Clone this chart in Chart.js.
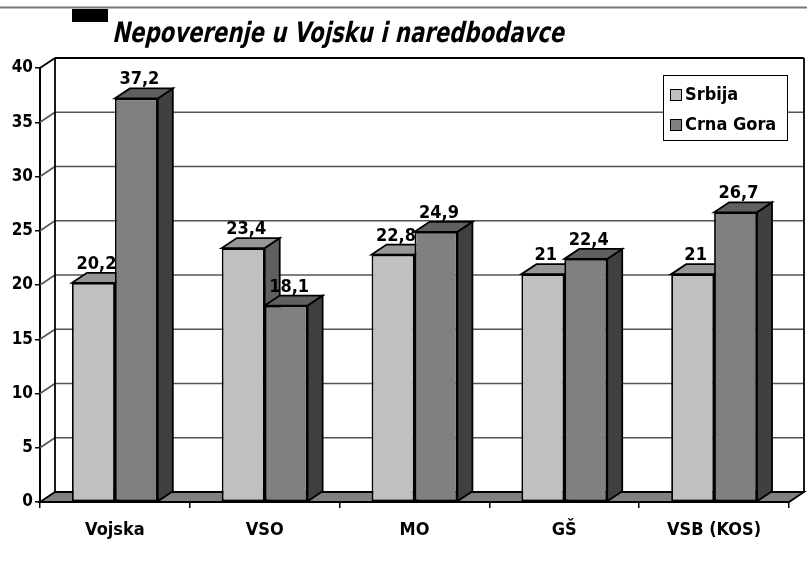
<!DOCTYPE html>
<html><head><meta charset="utf-8">
<script src="https://cdn.jsdelivr.net/npm/chart.js@4"></script>
<style>html,body{margin:0;padding:0;background:#fff}#wrap{width:807px;height:561px}</style>
</head><body><div id="wrap"><canvas id="c" width="807" height="561"></canvas></div>
<script>
const chartTitle = 'Nepoverenje u Vojsku i naredbodavce';
const categories = ['Vojska', 'VSO', 'MO', 'GŠ', 'VSB (KOS)'];
const seriesNames = ['Srbija', 'Crna Gora'];
const srbija = [20.2, 23.4, 22.8, 21, 21];
const crnaGora = [37.2, 18.1, 24.9, 22.4, 26.7];
const yTicks = [0, 5, 10, 15, 20, 25, 30, 35, 40];

const DX = 15, DY = -10;
const FRONT = ['#c0c0c0', '#808080'];
const TOP = ['#969696', '#606060'];
const SIDE = ['#606060', '#404040'];
const BODY = '"DejaVu Sans Condensed", "DejaVu Sans", sans-serif';
const TITLE_FONT = 'bold 28px "DejaVu Sans", sans-serif';
const W = 'bold';

function poly(ctx, pts, fill, stroke, lw) {
  ctx.beginPath();
  ctx.moveTo(pts[0][0], pts[0][1]);
  for (let i = 1; i < pts.length; i++) ctx.lineTo(pts[i][0], pts[i][1]);
  ctx.closePath();
  if (fill) { ctx.fillStyle = fill; ctx.fill(); }
  if (stroke) { ctx.strokeStyle = stroke; ctx.lineWidth = lw || 1; ctx.stroke(); }
}
function line(ctx, x1, y1, x2, y2) {
  ctx.beginPath(); ctx.moveTo(x1, y1); ctx.lineTo(x2, y2); ctx.stroke();
}

const threeD = {
  id: 'threeD',
  beforeDatasetsDraw(chart) {
    const { ctx, chartArea: a, scales: { y } } = chart;
    ctx.save();
    ctx.strokeStyle = '#555'; ctx.lineWidth = 1.6;
    yTicks.forEach(v => {
      const py = y.getPixelForValue(v);
      if (v > 0 && v < 40) {
        line(ctx, a.left + DX, py + DY, a.right + DX, py + DY);
        line(ctx, a.left, py, a.left + DX, py + DY);
      }
    });
    ctx.strokeStyle = '#000'; ctx.lineWidth = 1.8;
    line(ctx, a.left + DX, a.top + DY, a.right + DX, a.top + DY);
    line(ctx, a.right + DX, a.top + DY, a.right + DX, a.bottom + DY);
    line(ctx, a.left + DX, a.top + DY, a.left + DX, a.bottom + DY);
    line(ctx, a.left, a.top, a.left + DX, a.top + DY);
    poly(ctx, [[a.left, a.bottom], [a.right, a.bottom], [a.right + DX, a.bottom + DY], [a.left + DX, a.bottom + DY]], '#808080', '#000', 1.8);
    const n = chart.data.labels.length;
    for (let i = 0; i < n; i++) {
      chart.data.datasets.forEach((ds, d) => {
        const el = chart.getDatasetMeta(d).data[i];
        const l = el.x - el.width / 2, r = el.x + el.width / 2, t = el.y, b = el.base;
        poly(ctx, [[r, t], [r + DX, t + DY], [r + DX, b + DY], [r, b]], SIDE[d], '#000', 1.8);
        poly(ctx, [[l, t], [r, t], [r + DX, t + DY], [l + DX, t + DY]], TOP[d], '#000', 1.8);
      });
    }
    ctx.restore();
  },
  afterDatasetsDraw(chart) {
    const { ctx } = chart;
    ctx.save();
    ctx.fillStyle = '#000';
    ctx.font = W + ' 18px ' + BODY;
    ctx.textAlign = 'center'; ctx.textBaseline = 'alphabetic';
    chart.data.datasets.forEach((ds, d) => {
      chart.getDatasetMeta(d).data.forEach((el, i) => {
        const txt = String(ds.data[i]).replace('.', ',');
        ctx.fillText(txt, el.x + 3, el.y + DY - 4);
      });
    });
    ctx.restore();
  },
  afterDraw(chart) {
    const { ctx } = chart;
    ctx.save();
    ctx.strokeStyle = '#777'; ctx.lineWidth = 2;
    line(ctx, 0, 7.5, chart.width, 7.5);
    ctx.fillStyle = '#000';
    ctx.fillRect(72, 9, 36, 13);
    ctx.font = TITLE_FONT;
    ctx.textAlign = 'left'; ctx.textBaseline = 'alphabetic';
    const w = ctx.measureText(chartTitle).width;
    ctx.setTransform(452 / w, 0, -0.22, 1, 112, 42);
    ctx.fillText(chartTitle, 0, 0);
    ctx.setTransform(1, 0, 0, 1, 0, 0);
    const lx = 663, ly = 75, lw = 124, lh = 65;
    ctx.fillStyle = '#fff'; ctx.fillRect(lx, ly, lw, lh);
    ctx.strokeStyle = '#000'; ctx.lineWidth = 1; ctx.strokeRect(lx + 0.5, ly + 0.5, lw, lh);
    chart.data.datasets.forEach((ds, d) => {
      const cy = ly + 20 + d * 30;
      ctx.fillStyle = ds.backgroundColor;
      ctx.fillRect(lx + 7, cy - 6, 12, 12);
      ctx.strokeStyle = '#000'; ctx.lineWidth = 1;
      ctx.strokeRect(lx + 7.5, cy - 5.5, 11, 11);
      ctx.fillStyle = '#000';
      ctx.font = W + ' 18px ' + BODY;
      ctx.textBaseline = 'middle';
      ctx.fillText(ds.label, lx + 22, cy);
    });
    ctx.restore();
  }
};

new Chart(document.getElementById('c'), {
  type: 'bar',
  data: {
    labels: categories,
    datasets: [
      { label: seriesNames[0], data: srbija, backgroundColor: FRONT[0], borderColor: '#000', borderWidth: 1.8, borderSkipped: false },
      { label: seriesNames[1], data: crnaGora, backgroundColor: FRONT[1], borderColor: '#000', borderWidth: 1.8, borderSkipped: false }
    ]
  },
  options: {
    responsive: false,
    animation: false,
    devicePixelRatio: 1,
    layout: { padding: { top: 68, right: 18, left: 0, bottom: 0 } },
    datasets: { bar: { categoryPercentage: 0.573, barPercentage: 1.0 } },
    plugins: { legend: { display: false }, tooltip: { enabled: false }, title: { display: false } },
    scales: {
      x: {
        offset: true,
        grid: { drawOnChartArea: false, drawTicks: true, tickLength: 6, color: '#000', lineWidth: 1.5, offset: true },
        border: { display: false },
        ticks: { color: '#000', font: { family: BODY, weight: W, size: 18 }, padding: 12, maxRotation: 0 },
        afterFit(s) { s.height = 59; }
      },
      y: {
        min: 0, max: 40,
        afterBuildTicks(s) { s.ticks = yTicks.map(v => ({ value: v })); },
        grid: { drawOnChartArea: false, drawTicks: true, tickLength: 5, color: '#000', lineWidth: 1.5 },
        border: { display: true, color: '#000', width: 2 },
        ticks: { color: '#000', font: { family: BODY, weight: W, size: 17 }, padding: 2 },
        afterFit(s) { s.width = 40; }
      }
    }
  },
  plugins: [threeD]
});
</script>
</body></html>
